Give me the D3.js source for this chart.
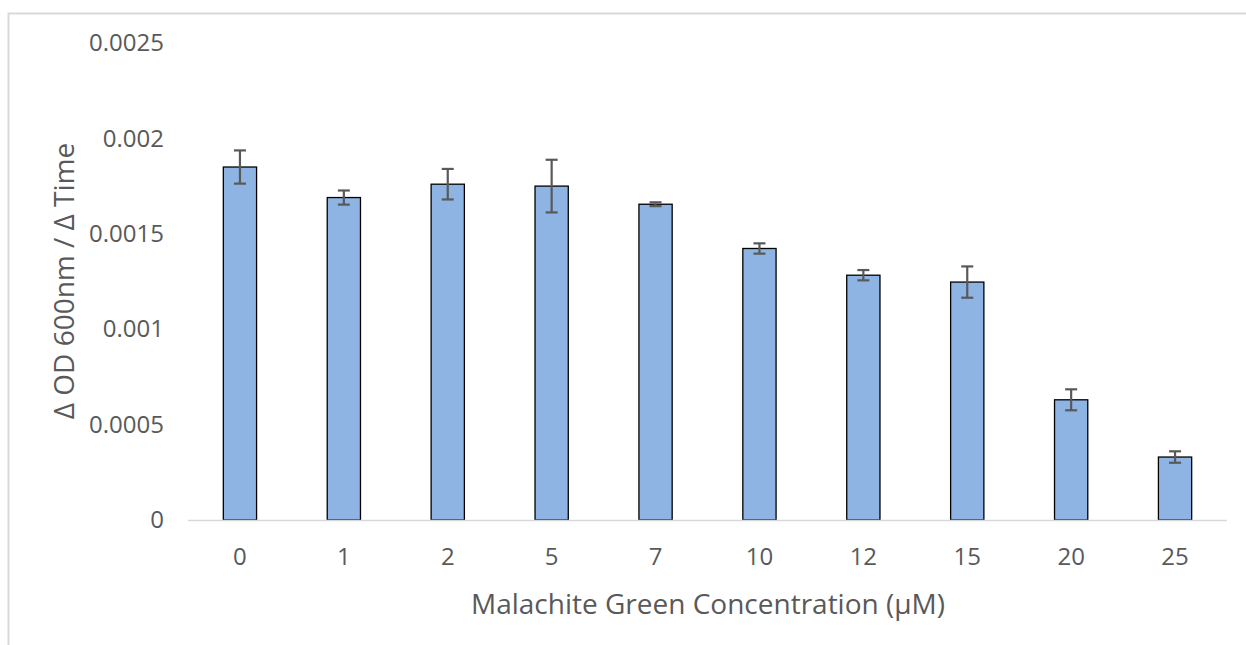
<!DOCTYPE html>
<meta charset="utf-8">
<style>
    body { margin: 0; background: #fff; }
    svg { display: block; font-family: "Open Sans", sans-serif; }
    .tick text { fill: #595959; }
    .axis-title { fill: #595959; }
</style>

<svg width="1246" height="645"></svg>

<script src="https://d3js.org/d3.v7.min.js"></script>
<script>
// concentrations (µM) and the growth rate
var concentrations = ["0", "1", "2", "5", "7", "10", "12", "15", "20", "25"];
var rates = [0.00185, 0.00169, 0.00176, 0.00175, 0.001655, 0.001423, 0.001283, 0.001247, 0.00063, 0.00033];
var errors = [0.000087, 0.000037, 0.00008, 0.000138, 0.00001, 0.000027, 0.000027, 0.000082, 0.000055, 0.00003];
var yTicks = [0, 0.0005, 0.001, 0.0015, 0.002, 0.0025];
var yTickLabels = ["0", "0.0005", "0.001", "0.0015", "0.002", "0.0025"];

var svg = d3.select("svg");

// chart area frame (only left and top edges are in view)
svg.append("rect")
    .attr("x", 8.5).attr("y", 13.5)
    .attr("width", 1300).attr("height", 700)
    .attr("fill", "none")
    .attr("stroke", "#d9d9d9")
    .attr("stroke-width", 2);

var x = d3.scaleBand()
    .domain(concentrations)
    .range([188, 1227])
    .paddingInner(0.68)
    .paddingOuter(0.34);

var y = d3.scaleLinear()
    .domain([0, 0.0025])
    .range([520, 43]);

// y axis labels (no line)
var yAxis = svg.append("g")
    .attr("transform", "translate(164,0)")
    .call(d3.axisLeft(y).tickValues(yTicks)
        .tickFormat(function(d, i) { return yTickLabels[i]; })
        .tickSize(0).tickPadding(0));
yAxis.select(".domain").remove();
yAxis.selectAll("text").attr("font-size", 24).attr("font-family", "Open Sans");

// bars
svg.append("g")
    .selectAll("rect")
    .data(rates)
    .enter()
    .append("rect")
    .attr("x", function(d, i) { return x(concentrations[i]); })
    .attr("y", function(d) { return y(d); })
    .attr("width", x.bandwidth())
    .attr("height", function(d) { return y(0) - y(d); })
    .attr("fill", "#8eb4e3")
    .attr("stroke", "#000")
    .attr("stroke-width", 1.3);

// baseline
svg.append("line")
    .attr("x1", 188).attr("x2", 1227)
    .attr("y1", y(0) + 0.5).attr("y2", y(0) + 0.5)
    .attr("stroke", "#d9d9d9")
    .attr("stroke-width", 1.5);

// error bars
var err = svg.append("g")
    .attr("stroke", "#595959")
    .attr("stroke-width", 2.2)
    .selectAll("g")
    .data(rates)
    .enter()
    .append("g")
    .attr("transform", function(d, i) {
        return "translate(" + (x(concentrations[i]) + x.bandwidth() / 2) + ",0)";
    });

err.append("line")
    .attr("y1", function(d, i) { return y(d + errors[i]); })
    .attr("y2", function(d, i) { return y(d - errors[i]); });
err.append("line")
    .attr("x1", -6).attr("x2", 6)
    .attr("y1", function(d, i) { return y(d + errors[i]); })
    .attr("y2", function(d, i) { return y(d + errors[i]); });
err.append("line")
    .attr("x1", -6).attr("x2", 6)
    .attr("y1", function(d, i) { return y(d - errors[i]); })
    .attr("y2", function(d, i) { return y(d - errors[i]); });

// x axis labels
var xAxis = svg.append("g")
    .attr("transform", "translate(0,548)")
    .call(d3.axisBottom(x).tickSize(0).tickPadding(0));
xAxis.select(".domain").remove();
xAxis.selectAll("text").attr("font-size", 24).attr("font-family", "Open Sans");

// axis titles
svg.append("text")
    .attr("class", "axis-title")
    .attr("x", 708).attr("y", 614)
    .attr("text-anchor", "middle")
    .attr("font-size", 28)
    .text("Malachite Green Concentration (µM)");

svg.append("text")
    .attr("class", "axis-title")
    .attr("transform", "translate(74,281) rotate(-90)")
    .attr("text-anchor", "middle")
    .attr("font-size", 28)
    .text("Δ OD 600nm / Δ Time");
</script>
